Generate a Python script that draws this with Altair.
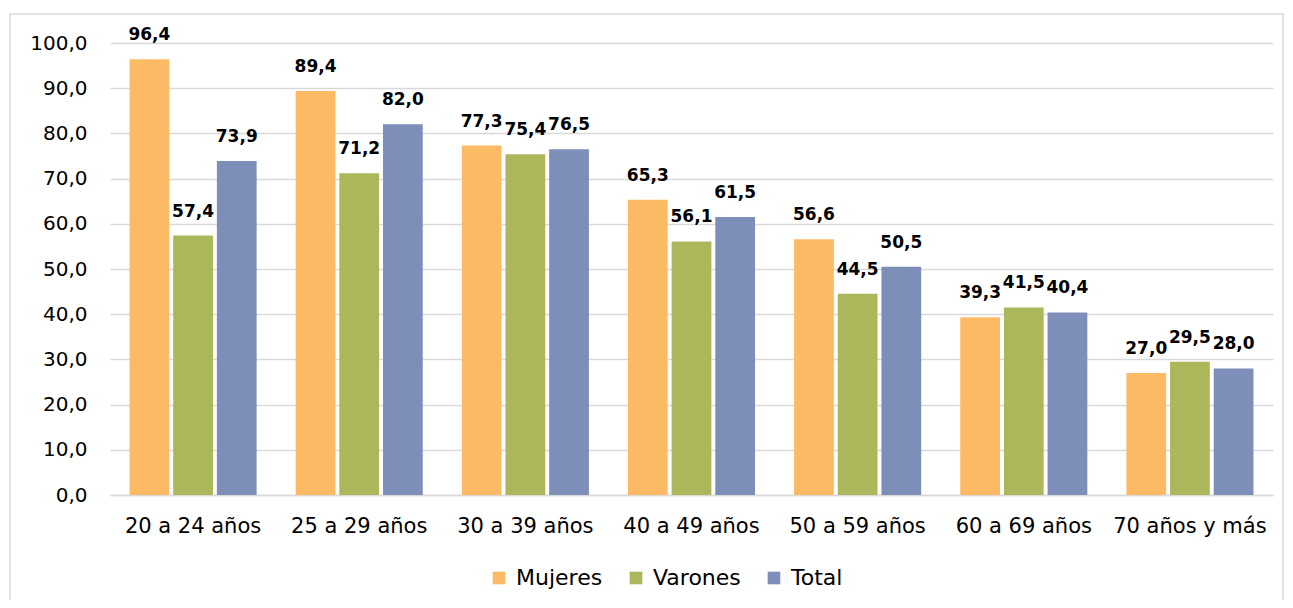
import altair as alt
import pandas as pd

categories = ["20 a 24 años", "25 a 29 años", "30 a 39 años", "40 a 49 años",
              "50 a 59 años", "60 a 69 años", "70 años y más"]
series = ["Mujeres", "Varones", "Total"]
mujeres = [96.4, 89.4, 77.3, 65.3, 56.6, 39.3, 27.0]
varones = [57.4, 71.2, 75.4, 56.1, 44.5, 41.5, 29.5]
total = [73.9, 82.0, 76.5, 61.5, 50.5, 40.4, 28.0]
colors = ["#FDBA64", "#ABB75A", "#7D8EB9"]
y_ticks = [0, 10, 20, 30, 40, 50, 60, 70, 80, 90, 100]

rows = []
for name, vals in zip(series, [mujeres, varones, total]):
    for c, v in zip(categories, vals):
        rows.append({"cat": c, "serie": name, "valor": v})
df = pd.DataFrame(rows)

FONT = "DejaVu Sans"
W, H = 1163, 452

base = alt.Chart(df).encode(
    x=alt.X("cat:N", sort=categories,
            scale=alt.Scale(paddingInner=0.235, paddingOuter=0.1175),
            axis=alt.Axis(title=None, labelAngle=0, labelFontSize=21, labelFont=FONT,
                          labelColor="#000000", labelPadding=20, ticks=False,
                          domainColor="#d9d9d9", domainWidth=1.5)),
    xOffset=alt.XOffset("serie:N", sort=series,
                        scale=alt.Scale(paddingInner=0.09, paddingOuter=0)),
)

bars = base.mark_bar().encode(
    y=alt.Y("valor:Q", scale=alt.Scale(domain=[0, 100], nice=False),
            axis=alt.Axis(title=None, values=y_ticks,
                          labelExpr="replace(format(datum.value, '.1f'), '.', ',')",
                          labelFontSize=20, labelFont=FONT, labelColor="#000000",
                          labelPadding=23, ticks=False, domain=False,
                          gridColor="#d9d9d9", gridWidth=1.5)),
    color=alt.Color("serie:N", sort=series,
                    scale=alt.Scale(domain=series, range=colors),
                    legend=alt.Legend(title=None, orient="none", direction="horizontal",
                                      legendX=378, legendY=524,
                                      symbolType="square", symbolSize=160,
                                      symbolStrokeWidth=0,
                                      labelFontSize=22, labelFont=FONT,
                                      labelColor="#000000", labelOffset=6,
                                      columnPadding=22)),
)

labels = base.transform_calculate(
    lab="replace(format(datum.valor, '.1f'), '.', ',')"
).mark_text(baseline="bottom", dy=-15, font=FONT, fontSize=17,
            fontWeight="bold", color="#000000").encode(
    y=alt.Y("valor:Q"),
    text="lab:N",
)

border = alt.Chart(pd.DataFrame({"a": [0]})).mark_rect(
    filled=False, stroke="#d9d9d9", strokeWidth=1.5
).encode(
    x=alt.value(-100), x2=alt.value(1173), y=alt.value(-29), y2=alt.value(620)
)

chart = alt.layer(border, bars, labels).properties(
    width=W, height=H,
    autosize=alt.AutoSizeParams(type="none"),
    padding={"left": 102, "top": 35, "right": 12, "bottom": 105},
).configure_view(stroke=None)

chart.save("out.html", embed_options={"renderer": "svg", "actions": False})
